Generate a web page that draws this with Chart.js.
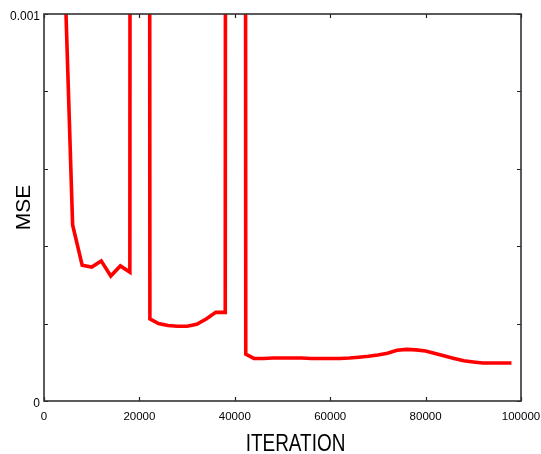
<!DOCTYPE html>
<html>
<head>
<meta charset="utf-8">
<script src="https://cdn.jsdelivr.net/npm/chart.js@4.4.1/dist/chart.umd.min.js"></script>
<style>
  html, body { margin: 0; padding: 0; background: #fff; }
  #wrap { width: 541px; height: 454px; position: relative; }
</style>
</head>
<body>
<div id="wrap"><canvas id="c" width="541" height="454"></canvas></div>
<script>
// ---- data ----
const iterations = [4000, 6000, 8000, 10000, 12000, 14000, 16000, 18000, 20000, 22200,
  24000, 26000, 28000, 30000, 32000, 34000, 36000, 38000, 40000, 42300,
  44000, 46000, 48000, 50000, 52000, 54000, 56000, 58000, 60000, 62000,
  64000, 66000, 68000, 70000, 72000, 74000, 76000, 78000, 80000, 82000,
  84000, 86000, 88000, 90000, 92000, 94000, 96000, 98000];
const mse = [0.00124, 0.000455, 0.000351, 0.000346, 0.000362, 0.000323, 0.000349, 0.000333, 0.05, 0.000212,
  0.000200, 0.000195, 0.000193, 0.000193, 0.000198, 0.000212, 0.000229, 0.000229, 0.05, 0.000121,
  0.000110, 0.000110, 0.000111, 0.000111, 0.000111, 0.000111, 0.000110, 0.000110, 0.000110, 0.000110,
  0.000111, 0.000113, 0.0001155, 0.0001188, 0.0001235, 0.000131, 0.0001335, 0.000132, 0.000129, 0.000123,
  0.0001165, 0.0001100, 0.0001039, 0.0001008, 0.0000982, 0.0000982, 0.0000982, 0.0000982];
const xTickValues = [0, 20000, 40000, 60000, 80000, 100000];
const yTickValues = [0, 0.0002, 0.0004, 0.0006, 0.0008, 0.001];
const yTickLabels = ['0', '', '', '', '', '0.001'];
const xTitle = 'ITERATION';
const yTitle = 'MSE';

const points = iterations.map((x, i) => ({ x: x, y: mse[i] }));

const frameAndTicks = {
  id: 'frameAndTicks',
  afterDatasetsDraw(chart) {
    const { ctx, chartArea: a, scales } = chart;
    ctx.save();
    ctx.strokeStyle = '#222';
    ctx.lineWidth = 1.2;
    const len = 4;
    ctx.beginPath();
    scales.x.ticks.forEach(t => {
      const px = Math.round(scales.x.getPixelForValue(t.value)) + 0.5;
      ctx.moveTo(px, a.bottom); ctx.lineTo(px, a.bottom - len);
      ctx.moveTo(px, a.top); ctx.lineTo(px, a.top + len);
    });
    scales.y.ticks.forEach(t => {
      const py = Math.round(scales.y.getPixelForValue(t.value)) + 0.5;
      ctx.moveTo(a.left, py); ctx.lineTo(a.left + len, py);
      ctx.moveTo(a.right, py); ctx.lineTo(a.right - len, py);
    });
    ctx.stroke();
    ctx.lineWidth = 1.6;
    ctx.strokeStyle = '#333';
    ctx.strokeRect(a.left, a.top, a.right - a.left, a.bottom - a.top);
    ctx.restore();
  },
  afterDraw(chart) {
    // x-axis title, drawn slightly condensed like the reference
    const { ctx } = chart;
    ctx.save();
    ctx.fillStyle = '#000';
    ctx.font = '24px "Liberation Sans", Arial, sans-serif';
    ctx.textAlign = 'center';
    ctx.textBaseline = 'alphabetic';
    ctx.translate(295.5, 451);
    ctx.scale(0.79, 1);
    ctx.fillText(xTitle, 0, 0);
    ctx.restore();
  }
};

new Chart(document.getElementById('c'), {
  type: 'line',
  data: {
    datasets: [{
      data: points,
      borderColor: '#ff0000',
      borderWidth: 3.6,
      pointRadius: 0,
      tension: 0,
      fill: false,
      clip: 0
    }]
  },
  options: {
    responsive: false,
    animation: false,
    events: [],
    layout: { padding: { left: 0, right: 20, top: 14, bottom: 0 } },
    plugins: { legend: { display: false }, tooltip: { enabled: false } },
    scales: {
      x: {
        type: 'linear',
        min: 0, max: 100000,
        afterBuildTicks(s) { s.ticks = xTickValues.map(v => ({ value: v })); },
        afterFit(s) { s.height = 53; s.paddingLeft = 0; s.paddingRight = 0; },
        grid: { display: false, drawTicks: false },
        border: { display: false },
        ticks: {
          padding: 9,
          color: '#000',
          font: { family: 'Liberation Sans', size: 11.5 },
          maxRotation: 0,
          autoSkip: false,
          callback: v => String(v)
        },
        title: { display: false, text: xTitle }
      },
      y: {
        type: 'linear',
        min: 0, max: 0.001,
        afterBuildTicks(s) { s.ticks = yTickValues.map(v => ({ value: v })); },
        afterFit(s) { s.width = 44; s.paddingTop = 0; s.paddingBottom = 0; },
        grid: { display: false, drawTicks: false },
        border: { display: false },
        ticks: {
          padding: 4,
          labelOffset: 3,
          color: '#000',
          font: { family: 'Liberation Sans', size: 12 },
          autoSkip: false,
          callback: (v, i) => yTickLabels[i]
        },
        title: {
          display: true, text: yTitle, color: '#000',
          font: { family: 'Liberation Sans', size: 21 },
          padding: { top: 12, bottom: 0 }
        }
      }
    }
  },
  plugins: [frameAndTicks]
});
</script>
</body>
</html>
